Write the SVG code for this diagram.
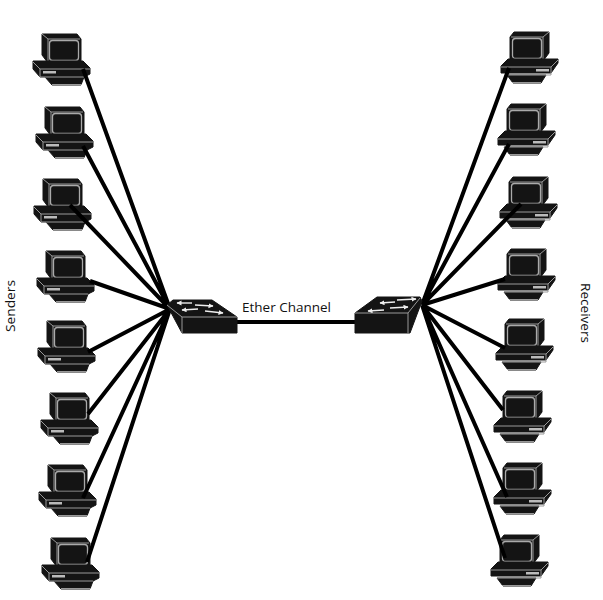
<svg xmlns="http://www.w3.org/2000/svg" xmlns:xlink="http://www.w3.org/1999/xlink" width="603" height="600" viewBox="0 0 603 600">
<style>
.d{fill:#141414;stroke:#141414;stroke-width:1;stroke-linejoin:round}
.g{fill:none;stroke:#999;stroke-width:1}
.r{fill:none;stroke:#aaa;stroke-width:1.3}
.w{stroke:#000;stroke-width:4;stroke-linecap:butt;fill:none}
.a{stroke:#eee;stroke-width:1.4;fill:none;marker-end:url(#h)}
.t{font-family:"Open Sans","Noto Sans",sans-serif;font-size:13.5px;fill:#111}
</style>
<defs>
<marker id="h" markerUnits="userSpaceOnUse" markerWidth="6" markerHeight="6" refX="4.5" refY="2.5" orient="auto"><path d="M0,0L5,2.5L0,5Z" fill="#eee"/></marker>
<g id="pcL">
<path class="d" d="M0,1H35L39,6V30H6L0,22Z"/>
<path class="g" d="M0,1L6,6H38M6,6V29"/>
<rect class="r" x="7.5" y="7.5" width="29" height="20" rx="3"/>
<path class="d" d="M3,44H42L39,52H10Z"/>
<path class="g" d="M10,51.5H40"/>
<path class="d" d="M-9,28H41L48,35V41L42,44H-2L-9,36Z"/>
<path class="g" d="M-9,29L-2,36H48M-2,36V44H42"/>
<rect x="1" y="38" width="13" height="2.5" fill="#bbb"/>
</g>
<g id="pcR">
<path class="d" d="M4,1H39V22L33,30H0V6Z"/>
<path class="g" d="M39,1L33,6H1M33,6V29"/>
<rect class="r" x="2.5" y="7.5" width="29" height="20" rx="3"/>
<path class="d" d="M-3,44H36L31,52H3Z"/>
<path class="g" d="M2,51.5H31"/>
<path class="d" d="M-2,28H48V32L41,42H-9V35Z"/>
<path class="g" d="M48,29L41,36H-9M41,36V44H-3"/>
<rect x="26" y="38" width="13" height="2.5" fill="#bbb"/>
</g>
</defs>
<rect width="603" height="600" fill="#fff"/>
<g id="pc-left-1"><use xlink:href="#pcL" x="42" y="33"/></g>
<g id="pc-left-2"><use xlink:href="#pcL" x="45" y="106"/></g>
<g id="pc-left-3"><use xlink:href="#pcL" x="43" y="178"/></g>
<g id="pc-left-4"><use xlink:href="#pcL" x="46" y="250"/></g>
<g id="pc-left-5"><use xlink:href="#pcL" x="47" y="320"/></g>
<g id="pc-left-6"><use xlink:href="#pcL" x="50" y="392"/></g>
<g id="pc-left-7"><use xlink:href="#pcL" x="48" y="464"/></g>
<g id="pc-left-8"><use xlink:href="#pcL" x="51" y="537"/></g>
<g id="pc-right-1"><use xlink:href="#pcR" x="510" y="31"/></g>
<g id="pc-right-2"><use xlink:href="#pcR" x="507" y="103"/></g>
<g id="pc-right-3"><use xlink:href="#pcR" x="509" y="176"/></g>
<g id="pc-right-4"><use xlink:href="#pcR" x="507" y="248"/></g>
<g id="pc-right-5"><use xlink:href="#pcR" x="505" y="318"/></g>
<g id="pc-right-6"><use xlink:href="#pcR" x="503" y="390"/></g>
<g id="pc-right-7"><use xlink:href="#pcR" x="503" y="462"/></g>
<g id="pc-right-8"><use xlink:href="#pcR" x="500" y="534"/></g>
<g id="connectors">
<path class="w" d="M83,69L170,309M83,146L170,309M70,205L170,309M90,281L170,309M88,352L170,309M88,414L170,309M83,498L170,309M87,562L170,309"/>
<path class="w" d="M509,68L422,305M509,144L422,305M521,204L422,305M505,279L422,305M505,348L422,305M503,410L422,305M507,497L422,305M505,558L422,305"/>
<path class="w" d="M232,322H358" stroke-width="3.4"/>
</g>
<g id="switch-left">
<path class="d" d="M173,300H212L237,317V333H182L167,305Z"/>
<path class="g" d="M167,305L182,317H237M182,317V333"/>
<path class="a" d="M192,303H177"/><path class="a" d="M195,305L213,306"/><path class="a" d="M198,309L182,310"/><path class="a" d="M205,311L223,313"/>
</g>
<g id="switch-right">
<path class="d" d="M377,297H420L422,301L410,333H355V313Z"/>
<path class="g" d="M355,313H408L420,298M408,313V333"/>
<path class="a" d="M397,300L416,299"/><path class="a" d="M395,302L380,303"/><path class="a" d="M390,308L408,307"/><path class="a" d="M384,310L368,311"/>
</g>
<text class="t" x="242" y="312" textLength="89" lengthAdjust="spacingAndGlyphs">Ether Channel</text>
<text class="t" transform="translate(15,332) rotate(-90)" textLength="52" lengthAdjust="spacingAndGlyphs">Senders</text>
<text class="t" transform="translate(581,283) rotate(90)" textLength="60" lengthAdjust="spacingAndGlyphs">Receivers</text>
</svg>
